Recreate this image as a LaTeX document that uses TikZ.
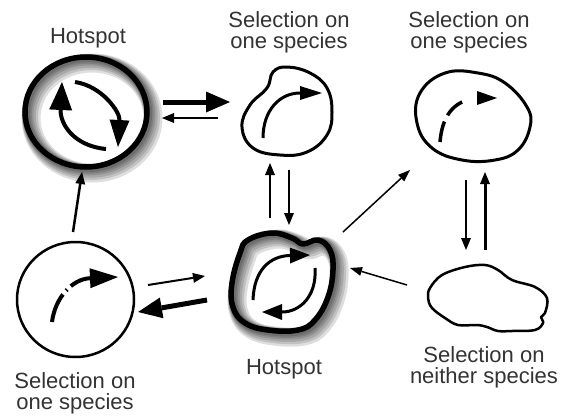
\documentclass[tikz,border=0pt]{standalone}
\usepackage{fontspec}
\setmainfont{Liberation Sans}
\usetikzlibrary{arrows.meta}
\begin{document}
\begin{tikzpicture}[x=1pt,y=-1pt,
  lbl/.style={font=\fontsize{22}{21.5}\selectfont, text=black!80, inner sep=0pt, align=center},
  outline/.style={line width=#1, line join=round},
  thinarr/.style={line width=2pt, -{Triangle[length=12pt,width=10pt,line width=0pt]}},
  thickarr/.style={line width=5pt, -{Triangle[length=24pt,width=21pt,line width=0pt]}},
  diagarr/.style={line width=1.5pt, -{Triangle[length=12pt,width=9pt,line width=0pt]}},
  icon/.style={line width=#1, line cap=butt}
]
\fill[white] (0,0) rectangle (563,418);
\useasboundingbox (0,0) rectangle (563,418);

% ---------- labels ----------
\node[lbl, anchor=base] (lHotA) at (88,43) {Hotspot};
\node[lbl, anchor=north] (lSelB) at (289,11) {Selection on\\one species};
\node[lbl, anchor=north] (lSelC) at (469,11) {Selection on\\one species};
\node[lbl, anchor=base] (lHotD) at (284,374) {Hotspot};
\node[lbl, anchor=north] (lSelE) at (484,346) {Selection on\\neither species};
\node[lbl, anchor=north] (lSelF) at (75,372) {Selection on\\one species};

% ---------- top-left hotspot (A) ----------
\foreach \s/\w in {6/19, 5/16, 4/13.5, 3/11, 2.2/9, 1.4/7.5}
  \draw[line width=\w pt, opacity=0.13, shift={(\s,\s)}] (86,112) ellipse [x radius=61pt, y radius=55pt];
\draw[line width=5.5pt] (86,112) ellipse [x radius=61pt, y radius=55pt];
\coordinate (A) at (86,112);
\draw[icon=4pt, -{Triangle[length=28pt,width=23pt,line width=0pt]}]
  (106,149) .. controls (74,146) and (60,124) .. (62,82);
\draw[icon=4pt, -{Triangle[length=27pt,width=20pt,line width=0pt]}]
  (75,82) .. controls (102,86) and (120,112) .. (118,147);

% ---------- top-middle blob (B) ----------
\draw[outline=3pt] plot[smooth cycle, tension=0.7] coordinates
  {(273,72) (287,67) (310,73) (327,88) (332,112) (327,135) (307,152) (280,155) (253,148) (242,127) (250,105) (267,88)};
\draw[icon=3pt, -{Triangle[length=22pt,width=14pt,line width=0pt]}]
  (263,138) .. controls (263,110) and (280,93) .. (322,93);

% ---------- top-right blob (C) ----------
\draw[outline=3pt] plot[smooth cycle, tension=0.7] coordinates
  {(445,73) (478,73) (505,83) (527,107) (530,127) (518,150) (495,160) (462,160) (432,148) (417,123) (420,93)};
\draw[icon=3.5pt, dash pattern=on 21pt off 7pt on 20pt off 50pt]
  (440,142) .. controls (442,118) and (452,100) .. (478,98);
\draw[icon=3pt, -{Triangle[length=20pt,width=14pt,line width=0pt]}] (477,98) -- (497,98);

% ---------- bottom hotspot (D) ----------
\foreach \s/\w in {6/19, 5/16, 4/13.5, 3/11, 2.2/9, 1.4/7.5}
  \draw[line width=\w pt, opacity=0.13, line join=round, shift={(\s,\s)}] plot[smooth cycle, tension=0.7] coordinates
  {(248,240) (272,233) (292,238) (303,244) (318,240) (330,250) (333,270) (328,297) (315,320) (298,330) (268,330) (245,323) (233,307) (232,283) (240,253)};
\draw[line width=5.5pt, line join=round] plot[smooth cycle, tension=0.7] coordinates
  {(248,240) (272,233) (292,238) (303,244) (318,240) (330,250) (333,270) (328,297) (315,320) (298,330) (268,330) (245,323) (233,307) (232,283) (240,253)};
\draw[icon=3pt, -{Triangle[length=20pt,width=16pt,line width=0pt]}]
  (253,300) .. controls (254,270) and (270,256) .. (310,255);
\draw[icon=3pt, -{Triangle[length=20pt,width=16pt,line width=0pt]}]
  (315,268) .. controls (317,296) and (300,312) .. (262,312);

% ---------- bottom-right blob (E) ----------
\draw[outline=2.5pt] plot[smooth cycle, tension=0.6] coordinates
  {(430,288) (442,275) (465,267) (485,265) (498,270) (512,280) (535,287) (547,298) (545,313) (541,317) (543,323) (535,330) (512,331) (498,331) (487,327) (477,325) (458,325) (445,318) (432,308) (428,298)};

% ---------- bottom-left circle (F) ----------
\draw[outline=2.5pt] (75.5,299.5) ellipse [x radius=58.5pt, y radius=57.5pt];
\draw[icon=4pt, dash pattern=on 30pt off 5pt on 1.5pt off 5pt on 200pt, -{Triangle[length=28pt,width=20pt,line width=0pt]}]
  (52,322) .. controls (55,298) and (72,279) .. (118,277);

% ---------- connector end points ----------
\coordinate (ab1) at (163,102); \coordinate (ab2) at (230,102);
\coordinate (ba1) at (218,118); \coordinate (ba2) at (162,118);
\coordinate (db1) at (270,218); \coordinate (db2) at (270,163);
\coordinate (bd1) at (289,170); \coordinate (bd2) at (289,225);
\coordinate (dc1) at (343,232); \coordinate (dc2) at (410,170);
\coordinate (ce1) at (466,180); \coordinate (ce2) at (466,250);
\coordinate (ec1) at (485,250); \coordinate (ec2) at (485,172);
\coordinate (ed1) at (407,285); \coordinate (ed2) at (350,268);
\coordinate (fd1) at (148,285); \coordinate (fd2) at (205,276);
\coordinate (df1) at (207,300); \coordinate (df2) at (138,312);
\coordinate (fa1) at (73,232); \coordinate (fa2) at (82,172);

% ---------- connectors ----------
\draw[thickarr] (ab1) -- (ab2);
\draw[thinarr] (ba1) -- (ba2);
\draw[thinarr] (db1) -- (db2);
\draw[thinarr] (bd1) -- (bd2);
\draw[diagarr] (dc1) -- (dc2);
\draw[thinarr] (ce1) -- (ce2);
\draw[thinarr, line width=3pt] (ec1) -- (ec2);
\draw[diagarr] (ed1) -- (ed2);
\draw[thinarr] (fd1) -- (fd2);
\draw[thickarr] (df1) -- (df2);
\draw[thinarr, line width=2.5pt] (fa1) -- (fa2);
\end{tikzpicture}
\end{document}
